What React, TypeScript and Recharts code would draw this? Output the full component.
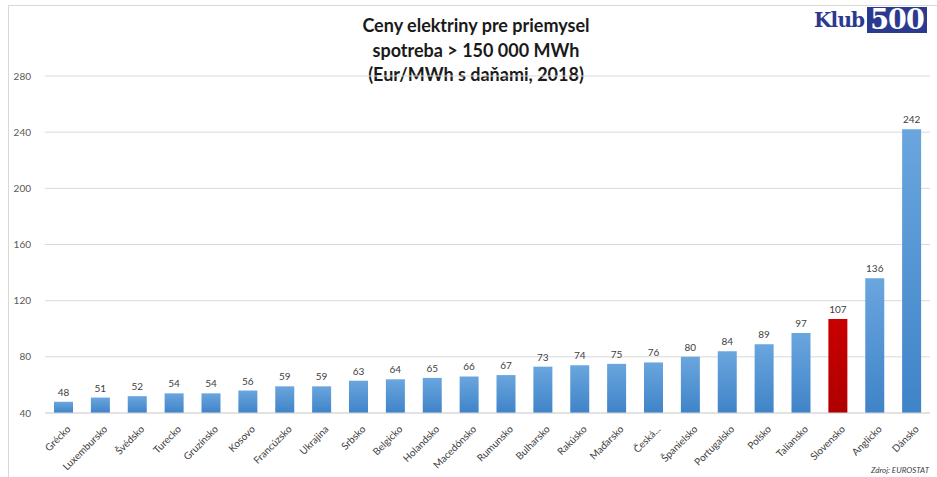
import React from "react";
import { BarChart, Bar, XAxis, YAxis, CartesianGrid, Cell, LabelList } from "recharts";

const countries = [
  "Grécko", "Luxembursko", "Švédsko", "Turecko", "Gruzínsko", "Kosovo", "Francúzsko", "Ukrajina",
  "Srbsko", "Belgicko", "Holandsko", "Macedónsko", "Rumunsko", "Bulharsko", "Rakúsko", "Maďarsko",
  "Česká...", "Španielsko", "Portugalsko", "Poľsko", "Taliansko", "Slovensko", "Anglicko", "Dánsko",
];
const prices = [48, 51, 52, 54, 54, 56, 59, 59, 63, 64, 65, 66, 67, 73, 74, 75, 76, 80, 84, 89, 97, 107, 136, 242];
const yTicks = [40, 80, 120, 160, 200, 240, 280];
const highlight = "Slovensko";

const data = countries.map((name, i) => ({ name, value: prices[i] }));

const font = "Lato, 'Open Sans', sans-serif";

const AngledTick = (props: any) => {
  const { x, y, payload } = props;
  return (
    <g transform={`translate(${x + 5},${y + 6})`}>
      <text transform="rotate(-45)" textAnchor="end" fontSize={10} fill="#404040" fontFamily={font} dy={4}>
        {payload.value}
      </text>
    </g>
  );
};

export default function App() {
  return (
    <div style={{ position: "absolute", left: 0, top: 0, width: 937, height: 477, background: "#fff", fontFamily: font, overflow: "hidden" }}>
      <div style={{ position: "absolute", left: 8, top: 5, width: 940, height: 480, borderLeft: "1px solid #d9d9d9", borderTop: "1px solid #d9d9d9" }} />
      <div style={{ position: "absolute", left: 276, top: 13, width: 400, textAlign: "center", fontWeight: 700, fontSize: 18, lineHeight: "24.5px", color: "#1a1a1a" }}>
        <div>Ceny elektriny pre priemysel</div>
        <div>spotreba &gt; 150 000 MWh</div>
        <div>(Eur/MWh s daňami, 2018)</div>
      </div>
      <div style={{ position: "absolute", left: 814, top: 6, height: 28, display: "flex", alignItems: "center" }}>
        <span style={{ fontFamily: "'DejaVu Serif', serif", fontWeight: 700, fontSize: 20, color: "#2b3a8f", letterSpacing: -0.8 }}>Klub</span>
        <span style={{ marginLeft: 3, background: "#2b3a8f", color: "#fff", fontFamily: "'DejaVu Serif', serif", fontWeight: 700, fontSize: 27, lineHeight: "26px", padding: "0 3px", letterSpacing: -1 }}>500</span>
      </div>
      <div style={{ position: "absolute", right: 8, top: 465, fontSize: 8, fontStyle: "italic", color: "#404040" }}>Zdroj: EUROSTAT</div>
      <div style={{ position: "absolute", left: 0, top: 0 }}>
        <BarChart width={937} height={477} data={data} margin={{ top: 76, right: 7, bottom: 0, left: 0 }} barCategoryGap={0}>
          <defs>
            <linearGradient id="blueGrad" x1="0" y1="0" x2="0" y2="1">
              <stop offset="0%" stopColor="#6aa6de" />
              <stop offset="100%" stopColor="#3f83c8" />
            </linearGradient>
            <linearGradient id="redGrad" x1="0" y1="0" x2="0" y2="1">
              <stop offset="0%" stopColor="#c80000" />
              <stop offset="100%" stopColor="#b00000" />
            </linearGradient>
          </defs>
          <CartesianGrid vertical={false} stroke="#d9d9d9" />
          <XAxis
            dataKey="name"
            interval={0}
            height={64}
            tick={<AngledTick />}
            tickLine={false}
            axisLine={{ stroke: "#d9d9d9" }}
          />
          <YAxis
            domain={[40, 280]}
            ticks={yTicks}
            width={45}
            axisLine={false}
            tickLine={false}
            tick={{ fontSize: 10, fill: "#595959", fontFamily: font }}
            tickMargin={8}
          />
          <Bar dataKey="value" barSize={19} isAnimationActive={false}>
            {data.map((d, i) => (
              <Cell key={`c-${i}`} fill={d.name === highlight ? "url(#redGrad)" : "url(#blueGrad)"} />
            ))}
            <LabelList dataKey="value" position="top" offset={6} fontSize={10} fill="#404040" fontFamily={font} />
          </Bar>
        </BarChart>
      </div>
    </div>
  );
}
